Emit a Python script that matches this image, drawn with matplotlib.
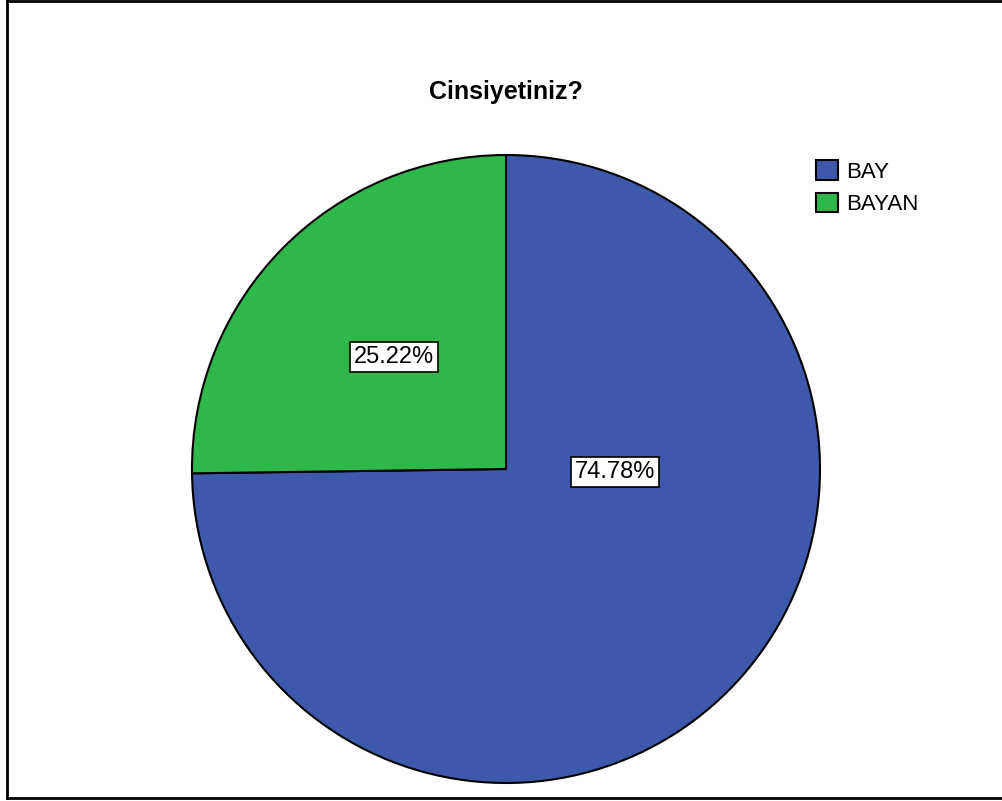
import matplotlib
matplotlib.use("Agg")
import matplotlib.pyplot as plt
from matplotlib.lines import Line2D

plt.rcParams['font.family'] = ['Liberation Sans', 'DejaVu Sans']

title = "Cinsiyetiniz?"
labels = ["BAY", "BAYAN"]
values = [74.78, 25.22]
colors = ["#3e59ab", "#2fb84a"]
# where the percentage boxes sit, in pie-radius units
label_pos = [(0.347, -0.01), (-0.357, 0.357)]

W, H = 1003, 801
fig = plt.figure(figsize=(W / 100, H / 100), dpi=100)

# pie centred at (506, 469) px with radius 314 px
cx, cy, r = 506, 469, 314
ax = fig.add_axes([(cx - r) / W, (H - cy - r) / H, 2 * r / W, 2 * r / H])
wedges, _, autotexts = ax.pie(values, colors=colors, startangle=90, counterclock=False,
                              autopct="%.2f%%", radius=1,
                              wedgeprops=dict(edgecolor="black", linewidth=1.5))
for t, (x, y) in zip(autotexts, label_pos):
    t.set_position((x, y))
    t.set_fontsize(17)
    t.set_bbox(dict(boxstyle="square,pad=0.18", facecolor="white", edgecolor="black", linewidth=1.2))
ax.set_xlim(-1, 1)
ax.set_ylim(-1, 1)
ax.set_aspect("auto")
ax.axis("off")

fig.text(506 / W, 1 - 92 / H, title, ha="center", va="center", fontsize=18, fontweight="bold")

fig.legend(wedges, labels, loc="upper left", bbox_to_anchor=(816 / W, 1 - 160 / H),
           bbox_transform=fig.transFigure, frameon=False, fontsize=16,
           handlelength=1.0, handleheight=1.0, handletextpad=0.35,
           labelspacing=0.45, borderpad=0, borderaxespad=0)

# outer frame (right edge falls off the image)
lw = 2.0
fig.add_artist(Line2D([7.5 / W, 7.5 / W], [3.5 / H, 1 - 0.5 / H], color="black", lw=lw, transform=fig.transFigure))
fig.add_artist(Line2D([7.5 / W, 1.0], [1 - 0.5 / H, 1 - 0.5 / H], color="black", lw=lw, transform=fig.transFigure))
fig.add_artist(Line2D([7.5 / W, 1.0], [3.5 / H, 3.5 / H], color="black", lw=lw, transform=fig.transFigure))

fig.savefig("out.png", dpi=100, facecolor="white")
